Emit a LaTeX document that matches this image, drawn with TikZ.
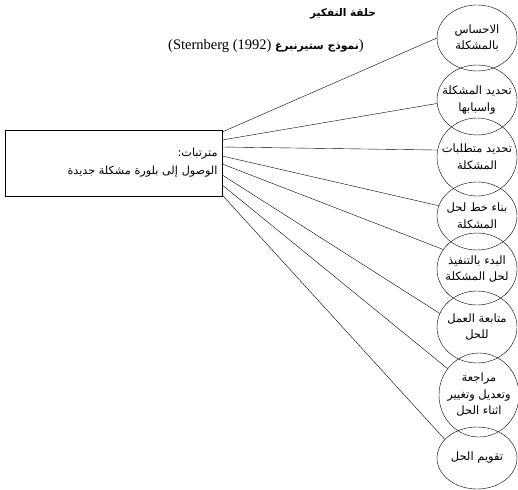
\documentclass[tikz,border=0pt]{standalone}
\usepackage{fontspec}
\setmainfont{Liberation Serif}
\newfontfamily\arabicfont[Script=Arabic]{DejaVu Sans}
\TeXXeTstate=1
\usetikzlibrary{positioning,shapes.geometric}
\newcommand{\rtl}[1]{\beginR #1\endR}
\tikzset{stage/.style={ellipse,draw,thin,minimum width=80pt,minimum height=68pt,
  inner xsep=-20pt,inner ysep=-14pt,align=center,
  font=\arabicfont\fontsize{11.5}{16.5}\selectfont},
  result/.style={draw,thin,minimum width=217pt,minimum height=66pt,
  align=right,inner sep=3pt,font=\arabicfont\fontsize{11.2}{18}\selectfont},
  link/.style={draw=black,thin}}

\begin{document}
\begin{tikzpicture}[x=1pt,y=-1pt]
\useasboundingbox (0,0) rectangle (518,489);
\node[font=\arabicfont\bfseries\fontsize{10.5}{12}\selectfont] (title) at (343,14)
{\rtl{حلقة التفكير}};
\node[font=\fontsize{14.5}{16}\selectfont] (subtitle) at (266,46)
{(Sternberg (1992) {\arabicfont\bfseries\fontsize{10.8}{12}\selectfont\rtl{نموذج ستيرنبرغ}})};
\node[result,text width=208pt] (res) at (113.5,163)
{\rtl{مترتبات:}\\\rtl{الوصول إلى بلورة مشكلة جديدة}};
\node[stage,minimum height=66pt] (c1) at (477,38) {\rtl{الاحساس}\\\rtl{بالمشكلة}};
\node[stage,minimum height=70pt] (c2) at (477,100) {\rtl{تحديد المشكلة}\\\rtl{واسبابها}};
\node[stage,minimum height=78pt] (c3) at (477,157) {\rtl{تحديد متطلبات}\\\rtl{المشكلة}};
\node[stage] (c4) at (477,216) {\rtl{بناء خط لحل}\\\rtl{المشكلة}};
\node[stage,minimum height=72pt] (c5) at (477,269) {\rtl{البدء بالتنفيذ}\\\rtl{لحل المشكلة}};
\node[stage,minimum height=72pt] (c6) at (477,327) {\rtl{متابعة العمل}\\\rtl{للحل}};
\node[stage,minimum height=84pt] (c7) at (479,395) {\rtl{مراجعة}\\\rtl{وتعديل وتغيير}\\\rtl{اثناء الحل}};
\node[stage,minimum height=62pt] (c8) at (477,458) {\rtl{تقويم الحل}};
% links from the box to each stage
\foreach \n/\dy/\a in {c1/31/180,c2/23/185,c3/16/170,c4/7/165,c5/-1/150,c6/-12/160,c7/-22/140,c8/-32/150}
  \draw[link] ([yshift=\dy pt]res.east) -- (\n.\a);
\end{tikzpicture}
\end{document}
